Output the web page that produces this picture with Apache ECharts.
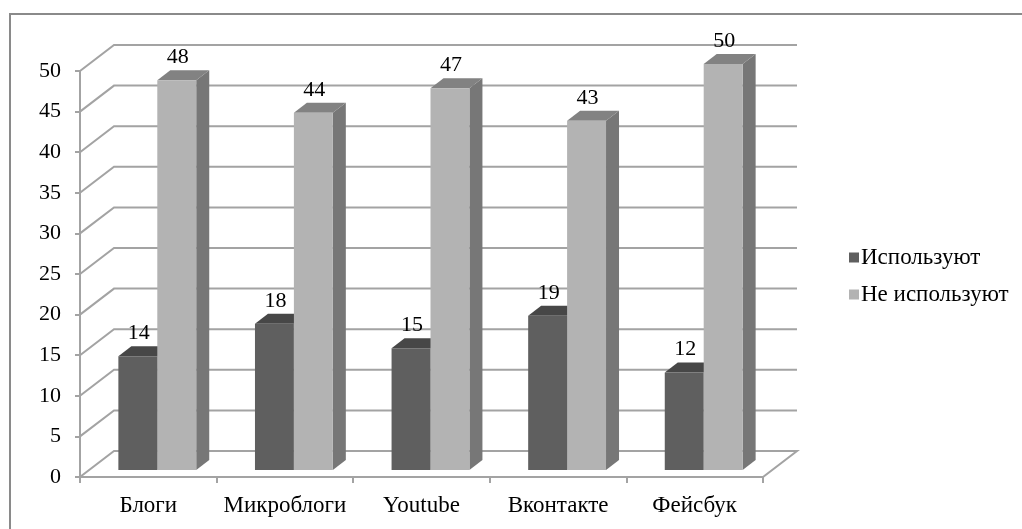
<!DOCTYPE html>
<html>
<head>
<meta charset="utf-8">
<script src="https://cdn.jsdelivr.net/npm/echarts@6/dist/echarts.min.js"></script>
<style>
html,body{margin:0;padding:0;background:#fff;}
#chart{width:1022px;height:529px;}
</style>
</head>
<body>
<div id="chart"></div>
<script>
const categories = ['Блоги', 'Микроблоги', 'Youtube', 'Вконтакте', 'Фейсбук'];
const seriesNames = ['Используют', 'Не используют'];
const usedValues = [14, 18, 15, 19, 12];
const notUsedValues = [48, 44, 47, 43, 50];
const yTicks = [0, 5, 10, 15, 20, 25, 30, 35, 40, 45, 50];

const FONT = '"Liberation Serif", "Times New Roman", serif';
const GRID_COLOR = '#a3a3a3';
const WALL_DX = 34, WALL_DY = -26;   // back wall depth offset
const BAR_DX = 9, BAR_DY = -7;       // bar front plane offset
const TOP_DX = 13, TOP_DY = -10;     // bar depth
const faceColors = [
  {front: '#5f5f5f', top: '#474747', side: '#4f4f4f'},
  {front: '#b3b3b3', top: '#828282', side: '#777777'}
];

const chart = echarts.init(document.getElementById('chart'), null, {renderer: 'canvas'});

function wallRender(params, api) {
  const cs = params.coordSys;
  const v = api.value(1);
  const y = api.coord([0, v])[1];
  const x0 = cs.x, x1 = cs.x + cs.width;
  const style = {stroke: GRID_COLOR, lineWidth: 2, fill: null};
  if (v === 0) {
    return {type: 'polygon', shape: {points: [[x0, y], [x1, y], [x1 + WALL_DX, y + WALL_DY], [x0 + WALL_DX, y + WALL_DY]]}, style: style, silent: true};
  }
  return {type: 'polyline', shape: {points: [[x0, y], [x0 + WALL_DX, y + WALL_DY], [x1 + WALL_DX, y + WALL_DY]]}, style: style, silent: true};
}

function makeBarRender(s) {
  return function (params, api) {
    const i = api.value(0), v = api.value(1);
    const base = api.coord([i, 0]);
    const top = api.coord([i, v]);
    const bw = api.size([1, 0])[0] * 0.285;
    const xl = base[0] - bw + s * bw + BAR_DX;
    const xr = xl + bw;
    const yb = base[1] + BAR_DY;
    const yt = top[1] + BAR_DY;
    const c = faceColors[s];
    return {
      type: 'group',
      children: [
        {type: 'polygon', shape: {points: [[xr, yt], [xr + TOP_DX, yt + TOP_DY], [xr + TOP_DX, yb + TOP_DY], [xr, yb]]}, style: {fill: c.side}},
        {type: 'polygon', shape: {points: [[xl, yt], [xr, yt], [xr + TOP_DX, yt + TOP_DY], [xl + TOP_DX, yt + TOP_DY]]}, style: {fill: c.top}},
        {type: 'rect', shape: {x: xl, y: yt, width: bw, height: yb - yt}, style: {fill: c.front}},
        {type: 'text', style: {text: String(v), x: (xl + xr) / 2 + 1, y: yt - 23, align: 'center', verticalAlign: 'middle', fill: '#000', font: '22px ' + FONT}}
      ]
    };
  };
}

const option = {
  backgroundColor: '#fff',
  animation: false,
  textStyle: {fontFamily: FONT},
  graphic: [{
    type: 'rect', shape: {x: 10, y: 14, width: 1100, height: 700},
    style: {fill: null, stroke: '#8a8a8a', lineWidth: 2}, silent: true, z: -10
  }],
  grid: {left: 80, right: 259, top: 71, bottom: 52, containLabel: false},
  legend: {
    orient: 'vertical', left: 844, top: 241, itemWidth: 10, itemHeight: 10, itemGap: 14,
    icon: 'rect',
    textStyle: {fontFamily: FONT, fontSize: 23, color: '#000', padding: [0, 0, 0, -3]},
    data: seriesNames
  },
  xAxis: {
    type: 'category', data: categories,
    axisLine: {show: true, lineStyle: {color: GRID_COLOR, width: 2}},
    axisTick: {show: true, length: 6, lineStyle: {color: GRID_COLOR, width: 2}},
    axisLabel: {fontFamily: FONT, fontSize: 23, color: '#000', margin: 17, interval: 0},
    splitLine: {show: false}
  },
  yAxis: {
    type: 'value', min: 0, max: 50, interval: 5,
    axisLine: {show: true, lineStyle: {color: GRID_COLOR, width: 2}},
    axisTick: {show: true, length: 5, lineStyle: {color: GRID_COLOR, width: 2}},
    axisLabel: {fontFamily: FONT, fontSize: 22, color: '#000', margin: 19},
    splitLine: {show: false}
  },
  series: [
    {
      type: 'custom', name: '_wall', silent: true, z: 1,
      renderItem: wallRender,
      data: yTicks.map(v => [0, v]),
      encode: {x: 0, y: 1}
    },
    {
      type: 'custom', name: seriesNames[0], z: 2,
      itemStyle: {color: faceColors[0].front},
      renderItem: makeBarRender(0),
      data: usedValues.map((v, i) => [i, v]),
      encode: {x: 0, y: 1}
    },
    {
      type: 'custom', name: seriesNames[1], z: 3,
      itemStyle: {color: faceColors[1].front},
      renderItem: makeBarRender(1),
      data: notUsedValues.map((v, i) => [i, v]),
      encode: {x: 0, y: 1}
    }
  ]
};
chart.setOption(option);
</script>
</body>
</html>
